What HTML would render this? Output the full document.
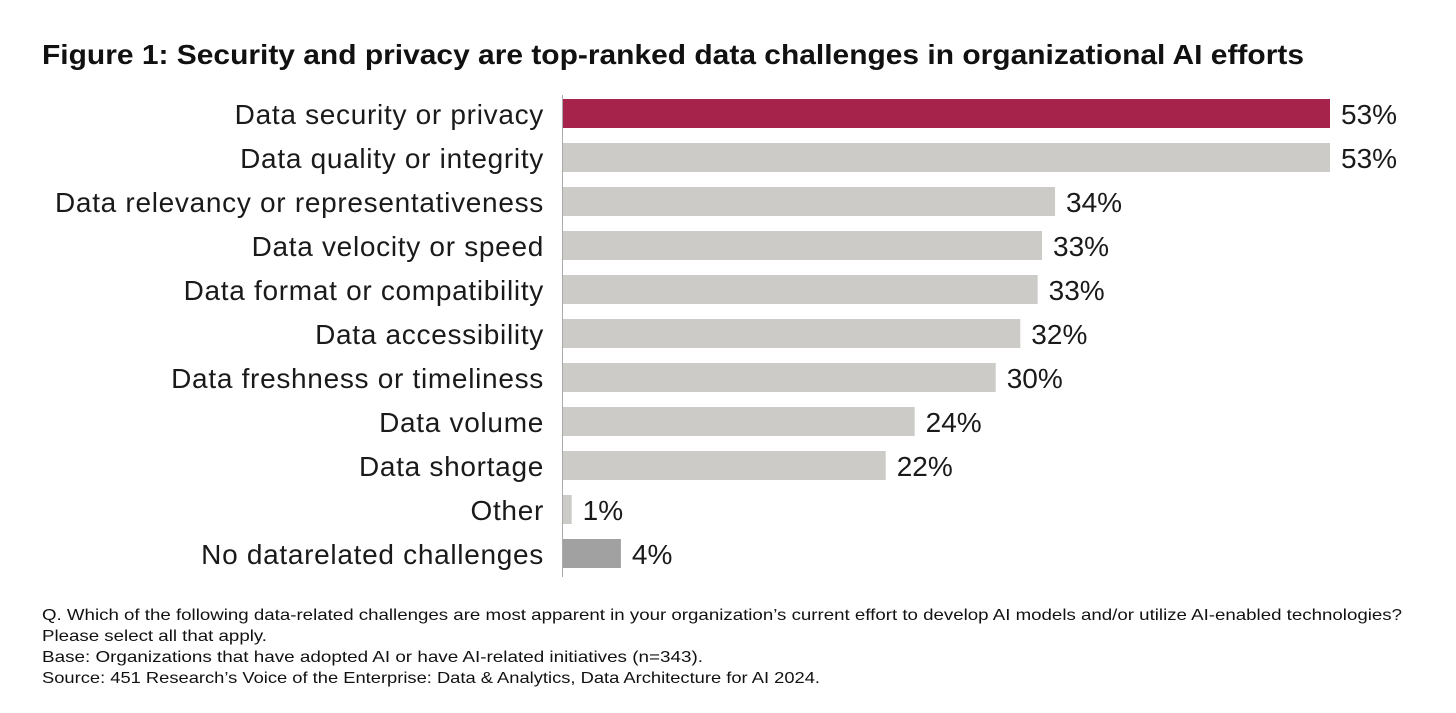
<!DOCTYPE html>
<html><head><meta charset="utf-8"><style>
html,body{margin:0;padding:0;background:#fff;}
svg{display:block;font-family:"Liberation Sans",sans-serif;}
</style></head><body>
<svg width="1456" height="713" viewBox="0 0 1456 713">
<text x="42" y="64" font-size="28" font-weight="bold" fill="#111" textLength="1262" lengthAdjust="spacingAndGlyphs">Figure 1: Security and privacy are top-ranked data challenges in organizational AI efforts</text>
<g id="bars"></g>
<line x1="562.5" y1="95" x2="562.5" y2="577" stroke="#aaa" stroke-width="1"/>
<g font-size="16" fill="#111">
<text x="42" y="620" textLength="1360" lengthAdjust="spacingAndGlyphs">Q. Which of the following data-related challenges are most apparent in your organization’s current effort to develop AI models and/or utilize AI-enabled technologies?</text>
<text x="42" y="641" textLength="225" lengthAdjust="spacingAndGlyphs">Please select all that apply.</text>
<text x="42" y="662" textLength="661" lengthAdjust="spacingAndGlyphs">Base: Organizations that have adopted AI or have AI-related initiatives (n=343).</text>
<text x="42" y="683" textLength="778" lengthAdjust="spacingAndGlyphs">Source: 451 Research’s Voice of the Enterprise: Data &amp; Analytics, Data Architecture for AI 2024.</text>
</g>
</svg>
<script>
const categories = ["Data security or privacy","Data quality or integrity","Data relevancy or representativeness","Data velocity or speed","Data format or compatibility","Data accessibility","Data freshness or timeliness","Data volume","Data shortage","Other","No datarelated challenges"];
const values = [53, 53, 34, 33.1, 32.8, 31.6, 29.9, 24.3, 22.3, 0.6, 4.0];
const valueLabels = ["53%","53%","34%","33%","33%","32%","30%","24%","22%","1%","4%"];
const colors = ["#a6244b","#cccbc7","#cccbc7","#cccbc7","#cccbc7","#cccbc7","#cccbc7","#cccbc7","#cccbc7","#cccbc7","#a0a1a0"];
const x0 = 563, pxPer = (1330-563)/53;
function xScale(v){ return x0 + v*pxPer; }
function yBand(i){ return 99 + i*44; }
const NS = "http://www.w3.org/2000/svg";
const g = document.getElementById('bars');
categories.forEach((c,i)=>{
  const y = yBand(i);
  const r = document.createElementNS(NS,'rect');
  r.setAttribute('x', x0);
  r.setAttribute('y', y);
  r.setAttribute('width', xScale(values[i]) - x0);
  r.setAttribute('height', 29);
  r.setAttribute('fill', colors[i]);
  
  
  g.appendChild(r);
  const t = document.createElementNS(NS,'text');
  t.setAttribute('x', 544);
  t.setAttribute('y', y + 25);
  t.setAttribute('text-anchor', 'end');
  t.setAttribute('font-size', '28');
  t.setAttribute('letter-spacing', '0.7');
  t.setAttribute('fill', '#1a1a1a');
  t.textContent = c;
  
  
  g.appendChild(t);
  const v = document.createElementNS(NS,'text');
  v.setAttribute('x', xScale(values[i]) + 11);
  v.setAttribute('y', y + 25);
  v.setAttribute('font-size', '28');
  v.setAttribute('fill', '#1a1a1a');
  v.textContent = valueLabels[i];
  
  
  g.appendChild(v);
});
</script>
</body></html>
